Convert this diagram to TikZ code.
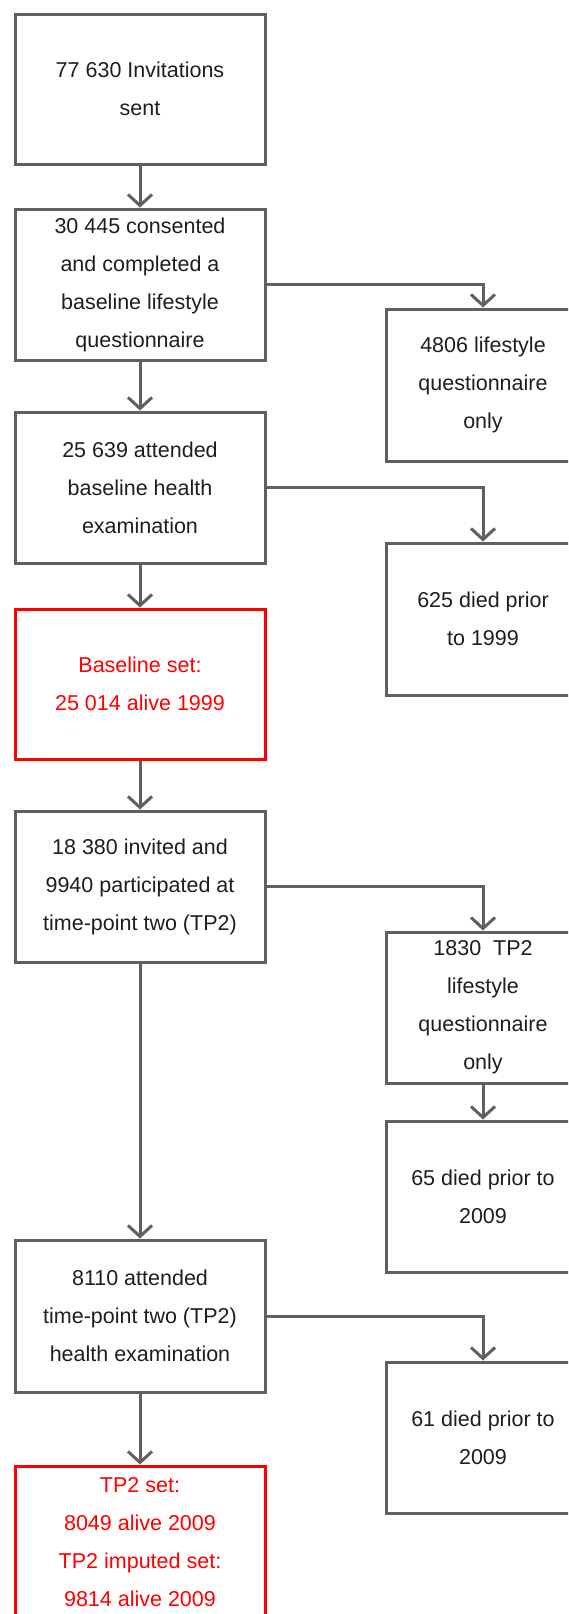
\documentclass[tikz,border=0pt]{standalone}
\usepackage{fontspec}
\setmainfont{Liberation Sans}
\usetikzlibrary{arrows.meta}
\definecolor{linegray}{RGB}{96,96,96}
\definecolor{txt}{RGB}{30,30,30}
\definecolor{redset}{RGB}{255,0,0}
\begin{document}
\begin{tikzpicture}[x=1pt,y=-1pt,
  box/.style={draw=linegray, line width=3pt, rectangle, inner sep=0pt, align=center,
    text=txt, font=\fontsize{21.5}{38}\selectfont},
  leftbox/.style={box, minimum width=250pt, minimum height=151pt},
  rightbox/.style={box, minimum width=193pt, minimum height=152pt},
  redbox/.style={leftbox, draw=redset, text=redset},
  conn/.style={draw=linegray, line width=3pt, line join=miter,
    -{Straight Barb[length=11pt,width=24pt]}}]
\useasboundingbox (0,0) rectangle (568,1614);
\clip (0,0) rectangle (568,1614);
% left column
\node[leftbox, minimum height=150pt] (b1) at (140,89) {77 630 Invitations\\sent};
\node[leftbox] (b2) at (140,284.5) {30 445 consented\\and completed a\\baseline lifestyle\\questionnaire};
\node[leftbox] (b3) at (140,487.5) {25 639 attended\\baseline health\\examination};
\node[redbox, minimum height=150pt] (s1) at (140,684) {Baseline set:\\25 014 alive 1999};
\node[leftbox] (b4) at (140,886.5) {18 380 invited and\\9940 participated at\\time-point two (TP2)};
\node[leftbox, minimum height=152pt] (b5) at (140,1316) {8110 attended\\time-point two (TP2)\\health examination};
\node[redbox, minimum height=153pt] (s2) at (140,1542.5) {TP2 set:\\8049 alive 2009\\TP2 imputed set:\\9814 alive 2009};
% right column
\node[rightbox] (r1) at (483,385) {4806 lifestyle\\questionnaire\\only};
\node[rightbox] (r2) at (483,619) {625 died prior\\to 1999};
\node[rightbox, minimum height=151pt] (r3) at (483,1007.5) {1830 \ TP2\\lifestyle\\questionnaire\\only};
\node[rightbox, minimum height=151pt] (r4) at (483,1196.5) {65 died prior to\\2009};
\node[rightbox, minimum height=151pt] (r5) at (483,1437.5) {61 died prior to\\2009};
% connectors
\draw[conn] (b1) -- (b2);
\draw[conn] (b2) -- (b3);
\draw[conn] (b3) -- (s1);
\draw[conn] (s1) -- (b4);
\draw[conn] (b4) -- (b5);
\draw[conn] (b5) -- (s2);
\draw[conn] (b2.east) -| (r1.north);
\draw[conn] (b3.east) -| (r2.north);
\draw[conn] (b4.east) -| (r3.north);
\draw[conn] (r3) -- (r4);
\draw[conn] (b5.east) -| (r5.north);
\end{tikzpicture}
\end{document}
